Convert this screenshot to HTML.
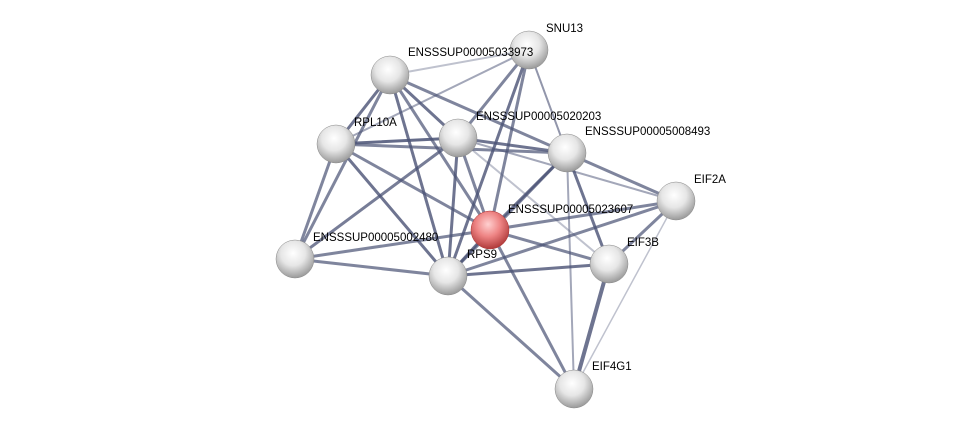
<!DOCTYPE html>
<html><head><meta charset="utf-8"><style>
html,body{margin:0;padding:0;background:#fff;}
svg{display:block;}
text{font-family:"Liberation Sans",sans-serif;font-size:11.5px;fill:#000;}
</style></head><body>
<svg width="976" height="433" viewBox="0 0 976 433">
<defs>
<radialGradient id="g" cx="45%" cy="35%" r="65%">
<stop offset="0" stop-color="#ffffff"/><stop offset="0.5" stop-color="#e6e6e6"/><stop offset="1" stop-color="#9a9a9a"/>
</radialGradient>
<radialGradient id="r" cx="45%" cy="35%" r="65%">
<stop offset="0" stop-color="#ffd0d0"/><stop offset="0.5" stop-color="#ee8484"/><stop offset="1" stop-color="#b03a3a"/>
</radialGradient>
</defs>
<g stroke="#4a5275" stroke-linecap="round">
<line x1="390" y1="75" x2="529" y2="50" stroke-width="2" opacity="0.35"/>
<line x1="390" y1="75" x2="336" y2="144" stroke-width="3" opacity="0.8"/>
<line x1="390" y1="75" x2="458" y2="138" stroke-width="3" opacity="0.8"/>
<line x1="390" y1="75" x2="567" y2="153" stroke-width="3" opacity="0.7"/>
<line x1="390" y1="75" x2="448" y2="276" stroke-width="3" opacity="0.8"/>
<line x1="390" y1="75" x2="490" y2="230" stroke-width="3" opacity="0.7"/>
<line x1="390" y1="75" x2="295" y2="259" stroke-width="3" opacity="0.7"/>
<line x1="529" y1="50" x2="336" y2="144" stroke-width="2" opacity="0.5"/>
<line x1="529" y1="50" x2="458" y2="138" stroke-width="3" opacity="0.7"/>
<line x1="529" y1="50" x2="490" y2="230" stroke-width="3" opacity="0.7"/>
<line x1="529" y1="50" x2="448" y2="276" stroke-width="3" opacity="0.8"/>
<line x1="529" y1="50" x2="567" y2="153" stroke-width="2" opacity="0.6"/>
<line x1="336" y1="144" x2="458" y2="138" stroke-width="3" opacity="0.85"/>
<line x1="336" y1="144" x2="567" y2="153" stroke-width="3" opacity="0.7"/>
<line x1="336" y1="144" x2="295" y2="259" stroke-width="3" opacity="0.7"/>
<line x1="336" y1="144" x2="448" y2="276" stroke-width="3" opacity="0.8"/>
<line x1="336" y1="144" x2="490" y2="230" stroke-width="3" opacity="0.7"/>
<line x1="458" y1="138" x2="567" y2="153" stroke-width="3" opacity="0.8"/>
<line x1="458" y1="138" x2="490" y2="230" stroke-width="3" opacity="0.7"/>
<line x1="458" y1="138" x2="448" y2="276" stroke-width="3" opacity="0.8"/>
<line x1="458" y1="138" x2="295" y2="259" stroke-width="3" opacity="0.75"/>
<line x1="458" y1="138" x2="609" y2="264" stroke-width="2" opacity="0.35"/>
<line x1="458" y1="138" x2="676" y2="201" stroke-width="2" opacity="0.5"/>
<line x1="567" y1="153" x2="676" y2="201" stroke-width="3" opacity="0.7"/>
<line x1="567" y1="153" x2="609" y2="264" stroke-width="3" opacity="0.8"/>
<line x1="567" y1="153" x2="490" y2="230" stroke-width="3" opacity="0.8"/>
<line x1="567" y1="153" x2="448" y2="276" stroke-width="3" opacity="0.7"/>
<line x1="567" y1="153" x2="574" y2="389" stroke-width="2" opacity="0.5"/>
<line x1="676" y1="201" x2="490" y2="230" stroke-width="3" opacity="0.7"/>
<line x1="676" y1="201" x2="609" y2="264" stroke-width="3" opacity="0.7"/>
<line x1="676" y1="201" x2="448" y2="276" stroke-width="3" opacity="0.7"/>
<line x1="676" y1="201" x2="574" y2="389" stroke-width="1.5" opacity="0.35"/>
<line x1="490" y1="230" x2="448" y2="276" stroke-width="3" opacity="0.8"/>
<line x1="490" y1="230" x2="609" y2="264" stroke-width="3" opacity="0.7"/>
<line x1="490" y1="230" x2="295" y2="259" stroke-width="3" opacity="0.7"/>
<line x1="490" y1="230" x2="574" y2="389" stroke-width="3" opacity="0.7"/>
<line x1="295" y1="259" x2="448" y2="276" stroke-width="3" opacity="0.7"/>
<line x1="448" y1="276" x2="609" y2="264" stroke-width="3" opacity="0.8"/>
<line x1="448" y1="276" x2="574" y2="389" stroke-width="3" opacity="0.7"/>
<line x1="609" y1="264" x2="574" y2="389" stroke-width="4" opacity="0.8"/>
</g>
<g stroke="#888" stroke-width="0.5">
<circle cx="390" cy="75" r="19" fill="url(#g)"/>
<circle cx="529" cy="50" r="19" fill="url(#g)"/>
<circle cx="336" cy="144" r="19" fill="url(#g)"/>
<circle cx="458" cy="138" r="19" fill="url(#g)"/>
<circle cx="567" cy="153" r="19" fill="url(#g)"/>
<circle cx="676" cy="201" r="19" fill="url(#g)"/>
<circle cx="295" cy="259" r="19" fill="url(#g)"/>
<circle cx="448" cy="276" r="19" fill="url(#g)"/>
<circle cx="609" cy="264" r="19" fill="url(#g)"/>
<circle cx="574" cy="389" r="19" fill="url(#g)"/>
<circle cx="490" cy="230" r="19" fill="url(#r)" stroke="#a33"/>
</g>
<g>
<text x="546" y="32">SNU13</text>
<text x="408" y="56">ENSSSUP00005033973</text>
<text x="354" y="126">RPL10A</text>
<text x="476" y="120">ENSSSUP00005020203</text>
<text x="585" y="135">ENSSSUP00005008493</text>
<text x="694" y="183">EIF2A</text>
<text x="508" y="213">ENSSSUP00005023607</text>
<text x="313" y="241">ENSSSUP00005002480</text>
<text x="467" y="258">RPS9</text>
<text x="627" y="246">EIF3B</text>
<text x="592" y="370">EIF4G1</text>
</g>
</svg>
</body></html>
